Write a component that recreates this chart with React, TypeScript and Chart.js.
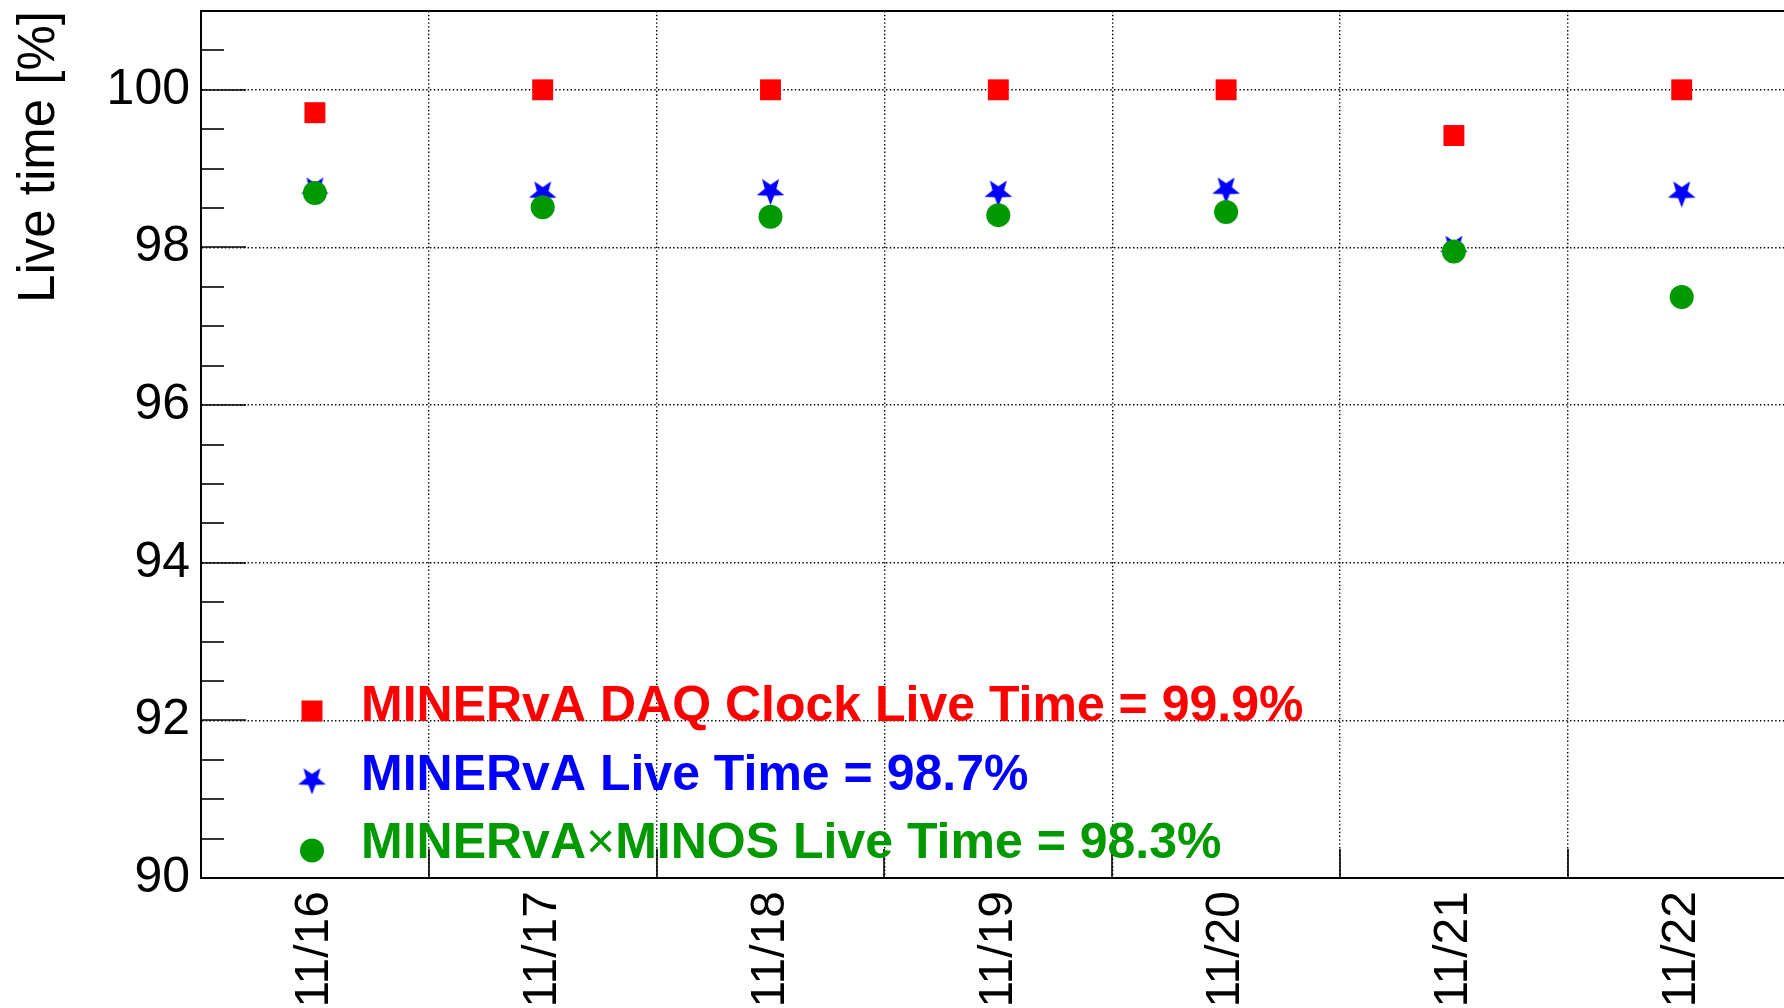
import React, { useEffect, useRef } from 'react';
import { Chart, registerables } from 'chart.js';

Chart.register(...registerables);

// ---------- data ----------
const categories = ['11/16', '11/17', '11/18', '11/19', '11/20', '11/21', '11/22'];
const daqClockLive = [99.71, 100.0, 100.0, 100.0, 100.0, 99.42, 100.0];
const minervaLive = [98.74, 98.69, 98.72, 98.7, 98.74, 98.0, 98.69];
const minervaMinosLive = [98.69, 98.51, 98.39, 98.41, 98.45, 97.95, 97.37];

const seriesNames = ['MINERvA DAQ Clock Live Time', 'MINERvA Live Time', 'MINERvA×MINOS Live Time'];
const seriesAverages = ['99.9', '98.7', '98.3'];
const seriesColors = ['#ff0000', '#0000ff', '#009900'];

const yMajorTicks = [90, 92, 94, 96, 98, 100];
const yMinorStep = 0.5;
const yMin = 90;
const yMax = 101;
const yTitle = 'Live time [%]';

// x range: bins of width 1 centred on integers; the right frame edge lies just past the canvas
const xMin = -0.5;
const xMax = 6.449;

const FONT = 'Liberation Sans';

function makeStar(color: string, R: number, ratio: number) {
  const size = Math.ceil(2 * R + 4);
  const c = document.createElement('canvas');
  c.width = size;
  c.height = size;
  const g = c.getContext('2d')!;
  const cx = size / 2;
  const cy = size / 2;
  g.beginPath();
  for (let k = 0; k < 10; k++) {
    const r = k % 2 === 0 ? R : R * ratio;
    const a = Math.PI / 2 + (k * Math.PI) / 5; // first point straight down
    const x = cx + r * Math.cos(a);
    const y = cy + r * Math.sin(a);
    if (k === 0) g.moveTo(x, y);
    else g.lineTo(x, y);
  }
  g.closePath();
  g.fillStyle = color;
  g.fill();
  return c;
}

const isMajor = (v: number) => yMajorTicks.some((m) => Math.abs(m - v) < 1e-6);

const zeroPadding = (s: any) => {
  s.paddingTop = 0;
  s.paddingBottom = 0;
  s.paddingLeft = 0;
  s.paddingRight = 0;
};

export default function App() {
  const ref = useRef<HTMLCanvasElement>(null);

  useEffect(() => {
    const canvas = ref.current!;
    const star = makeStar(seriesColors[1], 14.5, 0.42);

    const framePlugin = {
      id: 'rootFrame',
      afterDraw(chart: any) {
        const { ctx, chartArea } = chart;
        const xs = chart.scales.x;
        const ys = chart.scales.y;
        ctx.save();
        ctx.strokeStyle = '#000';
        // top frame line
        ctx.lineWidth = 2;
        ctx.beginPath();
        ctx.moveTo(chartArea.left, chartArea.top);
        ctx.lineTo(chartArea.right, chartArea.top);
        ctx.stroke();
        // y ticks (inside)
        ctx.lineWidth = 1.6;
        for (const t of ys.ticks) {
          const y = Math.round(ys.getPixelForValue(t.value));
          const len = isMajor(t.value) ? 45 : 23;
          ctx.beginPath();
          ctx.moveTo(chartArea.left, y);
          ctx.lineTo(chartArea.left + len, y);
          ctx.stroke();
        }
        // x ticks at bin edges (inside)
        for (let k = 1; k <= categories.length; k++) {
          const px = Math.round(xs.getPixelForValue(k - 0.5));
          if (px > chartArea.right) continue;
          ctx.beginPath();
          ctx.moveTo(px, chartArea.bottom);
          ctx.lineTo(px, chartArea.bottom - 29);
          ctx.stroke();
        }
        ctx.restore();
      },
    };

    const legendPlugin = {
      id: 'rootLegend',
      afterDraw(chart: any) {
        const { ctx, chartArea } = chart;
        const mx = chartArea.left + 111;
        const tx = chartArea.left + 160;
        const baselines = [chartArea.bottom - 157, chartArea.bottom - 88.5, chartArea.bottom - 20];
        const markerY = [baselines[0] - 10, baselines[1] - 9.5, baselines[2] - 7.5];
        ctx.save();
        for (let i = 0; i < seriesNames.length; i++) {
          const color = seriesColors[i];
          ctx.fillStyle = color;
          const my = markerY[i];
          if (i === 0) {
            ctx.fillRect(mx - 10.5, my - 10.5, 21, 21);
          } else if (i === 1) {
            ctx.drawImage(star, mx - star.width / 2, my - star.height / 2);
          } else {
            ctx.beginPath();
            ctx.arc(mx, my, 12, 0, Math.PI * 2);
            ctx.fill();
          }
          const text = `${seriesNames[i]} = ${seriesAverages[i]}%`;
          const parts = text.split('×');
          let x = tx;
          ctx.textBaseline = 'alphabetic';
          ctx.textAlign = 'left';
          parts.forEach((p, j) => {
            if (j > 0) {
              ctx.font = `50px "${FONT}"`;
              ctx.fillText('×', x, baselines[i]);
              x += ctx.measureText('×').width;
            }
            ctx.font = `bold 50px "${FONT}"`;
            ctx.fillText(p, x, baselines[i]);
            x += ctx.measureText(p).width;
          });
        }
        ctx.restore();
      },
    };

    const toXY = (arr: number[]) => arr.map((y, i) => ({ x: i, y }));

    const chart = new Chart(canvas, {
      type: 'line',
      data: {
        datasets: [
          {
            label: seriesNames[0],
            data: toXY(daqClockLive),
            showLine: false,
            pointStyle: 'rect',
            pointRadius: 14.8,
            pointBorderWidth: 0,
            backgroundColor: seriesColors[0],
            borderColor: seriesColors[0],
            order: 2,
          },
          {
            label: seriesNames[1],
            data: toXY(minervaLive),
            showLine: false,
            pointStyle: star as any,
            pointRadius: 14,
            pointBorderWidth: 0,
            backgroundColor: seriesColors[1],
            borderColor: seriesColors[1],
            order: 1,
          },
          {
            label: seriesNames[2],
            data: toXY(minervaMinosLive),
            showLine: false,
            pointStyle: 'circle',
            pointRadius: 12,
            pointBorderWidth: 0,
            backgroundColor: seriesColors[2],
            borderColor: seriesColors[2],
            order: 0,
          },
        ],
      },
      options: {
        responsive: false,
        animation: false,
        events: [],
        layout: { autoPadding: false, padding: { top: 11, left: 0, right: 0, bottom: 0 } },
        plugins: {
          legend: { display: false },
          tooltip: { enabled: false },
          title: { display: false },
        },
        scales: {
          x: {
            type: 'linear',
            min: xMin,
            max: xMax,
            afterBuildTicks: (s: any) => {
              s.ticks = categories.map((_, i) => ({ value: i }));
            },
            afterFit: (s: any) => {
              s.height = 130;
              zeroPadding(s);
            },
            ticks: {
              autoSkip: false,
              minRotation: 90,
              maxRotation: 90,
              padding: 13,
              color: '#000',
              font: { family: FONT, size: 48 },
              callback: (v: any) => categories[v as number] ?? '',
            },
            grid: {
              offset: true,
              drawTicks: false,
              lineWidth: 1.4,
              color: (c: any) => (c.index === 0 ? 'rgba(0,0,0,0)' : '#000'),
            },
            border: { display: true, color: '#000', width: 2, dash: [1.4, 2.4] },
          },
          y: {
            type: 'linear',
            min: yMin,
            max: yMax,
            afterFit: (s: any) => {
              s.width = 201;
              zeroPadding(s);
            },
            ticks: {
              stepSize: yMinorStep,
              autoSkip: false,
              padding: 11,
              color: '#000',
              font: { family: FONT, size: 50 },
              callback: (v: any) => (isMajor(v as number) ? String(Math.round(v as number)) : ''),
            },
            grid: {
              drawTicks: false,
              lineWidth: 1.4,
              color: (c: any) =>
                c.tick && isMajor(c.tick.value) && c.tick.value > yMin ? '#000' : 'rgba(0,0,0,0)',
            },
            border: { display: true, color: '#000', width: 2, dash: [1.4, 2.4] },
            title: {
              display: true,
              text: yTitle,
              align: 'end',
              color: '#000',
              font: { family: FONT, size: 51, lineHeight: 1.2 },
              padding: { top: 9, bottom: 0 },
            },
          },
        },
      } as any,
      plugins: [framePlugin, legendPlugin],
    });

    return () => chart.destroy();
  }, []);

  return (
    <div style={{ position: 'fixed', left: 0, top: 0, width: 1784, height: 1008, background: '#fff' }}>
      <canvas ref={ref} width={1784} height={1008} style={{ display: 'block' }} />
    </div>
  );
}
